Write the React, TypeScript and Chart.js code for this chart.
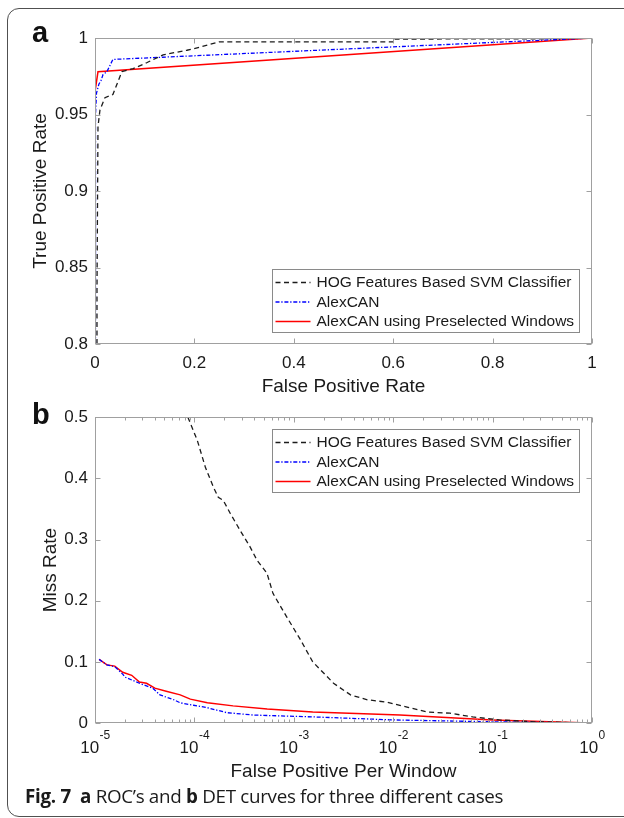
import React, { useEffect, useRef } from "react";
import { Chart, registerables } from "chart.js";

Chart.register(...registerables);

const FONT = "'Liberation Sans', Arial, Helvetica, sans-serif";
const CAPTION_FONT = "'Open Sans', 'Noto Sans', sans-serif";

// ---------- series names ----------
const seriesLabels = [
  "HOG Features Based SVM Classifier",
  "AlexCAN",
  "AlexCAN using Preselected Windows",
];

// ---------- (a) ROC data ----------
const rocHogFpr = [0.004, 0.004, 0.006, 0.01, 0.02, 0.036, 0.054, 0.077, 0.105, 0.137, 0.185, 0.211, 0.25, 0.6, 0.6, 0.9, 1.0];
const rocHogTpr = [0.8, 0.835, 0.942, 0.953, 0.961, 0.963, 0.978, 0.98, 0.984, 0.989, 0.992, 0.994, 0.9975, 0.9975, 0.9993, 0.9995, 1.0];

const rocAlexFpr = [0.001, 0.001, 0.003, 0.008, 0.012, 0.016, 0.024, 0.036, 1.0];
const rocAlexTpr = [0.8, 0.95, 0.964, 0.97, 0.972, 0.976, 0.978, 0.986, 1.0];

const rocPreFpr = [0, 0, 0.001, 0.006, 1.0];
const rocPreTpr = [0.8, 0.963, 0.966, 0.978, 1.0];

const rocXTicks = [0, 0.2, 0.4, 0.6, 0.8, 1];
const rocYTicks = [0.8, 0.85, 0.9, 0.95, 1];

// ---------- (b) DET data ----------
const detHogFppw = [8.6e-5, 1.07e-4, 1.29e-4, 1.55e-4, 1.74e-4, 1.95e-4, 2.29e-4, 2.88e-4, 3.63e-4, 4.27e-4, 5.37e-4, 6.17e-4, 8.51e-4, 1.15e-3, 1.55e-3, 2.51e-3, 3.72e-3, 5.5e-3, 8.7e-3, 1.38e-2, 2.19e-2, 3.72e-2, 6.3e-2, 0.117, 0.257, 0.95];
const detHogMiss = [0.5, 0.462, 0.418, 0.386, 0.369, 0.364, 0.343, 0.315, 0.288, 0.266, 0.245, 0.212, 0.173, 0.138, 0.1, 0.065, 0.046, 0.038, 0.034, 0.026, 0.018, 0.016, 0.01, 0.005, 0.002, 0.0];

const detAlexFppw = [1.1e-5, 1.32e-5, 1.58e-5, 1.9e-5, 2.0e-5, 2.8e-5, 3.8e-5, 4.5e-5, 6.2e-5, 7.2e-5, 9.8e-5, 1.35e-4, 2.1e-4, 3.9e-4, 1.55e-3, 1e-2, 0.1, 0.93];
const detAlexMiss = [0.104, 0.095, 0.092, 0.08, 0.075, 0.065, 0.057, 0.046, 0.038, 0.033, 0.029, 0.025, 0.017, 0.013, 0.01, 0.005, 0.002, 0.0];

const detPreFppw = [1.1e-5, 1.32e-5, 1.58e-5, 1.9e-5, 2.34e-5, 2.8e-5, 3.3e-5, 4.0e-5, 5.2e-5, 7.2e-5, 9.1e-5, 1.35e-4, 2.45e-4, 5.4e-4, 1.55e-3, 1.17e-2, 0.1, 0.95];
const detPreMiss = [0.104, 0.095, 0.093, 0.083, 0.078, 0.067, 0.065, 0.057, 0.052, 0.046, 0.039, 0.033, 0.028, 0.023, 0.018, 0.013, 0.005, 0.0];

const detXTicks = [1e-5, 1e-4, 1e-3, 1e-2, 1e-1, 1];
const detXExponents = ["-5", "-4", "-3", "-2", "-1", "0"];
const detYTicks = [0, 0.1, 0.2, 0.3, 0.4, 0.5];
const minorMultipliers = [2, 3, 4, 5, 6, 7, 8, 9];

// ---------- styles ----------
const seriesStyles = [
  { color: "#1c1c1c", dash: [5, 3.5], width: 1.3 },
  { color: "#0000ff", dash: [4, 1.8, 1.3, 1.8], width: 1.3 },
  { color: "#ff0000", dash: [] as number[], width: 1.5 },
];
const TEXT = "#1a1a1a";
const FRAME = "#a0a0a0";

const zip = (xs: number[], ys: number[]) => xs.map((x, i) => ({ x, y: ys[i] }));
const fmt = (v: any) => String(+Number(v).toFixed(4));

const makeDatasets = (pairs: [number[], number[]][]) =>
  pairs.map(([xs, ys], i) => ({
    label: seriesLabels[i],
    data: zip(xs, ys),
    borderColor: seriesStyles[i].color,
    borderDash: seriesStyles[i].dash,
    borderWidth: seriesStyles[i].width,
    pointRadius: 0,
    fill: false,
    tension: 0,
    showLine: true,
  }));

const decorPlugin = {
  id: "decor",
  afterDatasetsDraw(chart: any, _args: any, opts: any) {
    const { ctx, chartArea: a } = chart;
    const xs = chart.scales.x;
    const ys = chart.scales.y;
    const L = Math.round(a.left) + 0.5;
    const R = Math.round(a.right) - 0.5;
    const T = Math.round(a.top) + 0.5;
    const B = Math.round(a.bottom) - 0.5;
    ctx.save();
    ctx.setLineDash([]);
    ctx.strokeStyle = FRAME;
    ctx.lineWidth = 1;
    ctx.strokeRect(L, T, R - L, B - T);
    ctx.beginPath();
    const major = 5;
    const minor = 3;
    xs.ticks.forEach((t: any) => {
      const p = Math.round(xs.getPixelForValue(t.value)) + 0.5;
      ctx.moveTo(p, B);
      ctx.lineTo(p, B - major);
      ctx.moveTo(p, T);
      ctx.lineTo(p, T + major);
    });
    ys.ticks.forEach((t: any) => {
      const p = Math.round(ys.getPixelForValue(t.value)) + 0.5;
      ctx.moveTo(L, p);
      ctx.lineTo(L + major, p);
      ctx.moveTo(R, p);
      ctx.lineTo(R - major, p);
    });
    if (opts.minorX) {
      xs.ticks.slice(0, -1).forEach((t: any) => {
        minorMultipliers.forEach((m) => {
          const p = Math.round(xs.getPixelForValue(t.value * m)) + 0.5;
          ctx.moveTo(p, B);
          ctx.lineTo(p, B - minor);
          ctx.moveTo(p, T);
          ctx.lineTo(p, T + minor);
        });
      });
    }
    ctx.stroke();

    // power-of-ten tick labels
    if (opts.powerLabels) {
      ctx.fillStyle = TEXT;
      ctx.textBaseline = "alphabetic";
      ctx.textAlign = "left";
      xs.ticks.forEach((t: any, i: number) => {
        const p = xs.getPixelForValue(t.value);
        const base = "10";
        const exp = detXExponents[i];
        ctx.font = `17px ${FONT}`;
        const wb = ctx.measureText(base).width;
        ctx.font = `12px ${FONT}`;
        const we = ctx.measureText(exp).width;
        const x0 = p - (wb + we) / 2;
        ctx.font = `17px ${FONT}`;
        ctx.fillText(base, x0, a.bottom + 30);
        ctx.font = `12px ${FONT}`;
        ctx.fillText(exp, x0 + wb + 0.5, a.bottom + 15.5);
      });
    }

    // legend box
    const lg = opts.legend;
    if (lg) {
      const w = lg.width;
      const h = lg.height;
      const bx = Math.round(a.right - lg.offsetX - w) + 0.5;
      const by = Math.round(lg.anchor === "top" ? a.top + lg.offsetY : a.bottom - lg.offsetY - h) + 0.5;
      ctx.fillStyle = "#ffffff";
      ctx.fillRect(bx, by, w, h);
      ctx.strokeStyle = "#8a8a8a";
      ctx.lineWidth = 1;
      ctx.strokeRect(bx, by, w, h);
      chart.data.datasets.forEach((ds: any, i: number) => {
        const cy = by + 13 + i * 19.5;
        ctx.beginPath();
        ctx.setLineDash(ds.borderDash || []);
        ctx.strokeStyle = ds.borderColor;
        ctx.lineWidth = ds.borderWidth;
        ctx.moveTo(bx + 3, cy);
        ctx.lineTo(bx + 38, cy);
        ctx.stroke();
        ctx.setLineDash([]);
        ctx.fillStyle = TEXT;
        ctx.font = `15.5px ${FONT}`;
        ctx.textBaseline = "middle";
        ctx.textAlign = "left";
        ctx.fillText(ds.label, bx + 44, cy + 0.5);
      });
    }
    ctx.restore();
  },
};

const noGrid = { display: false, drawTicks: false };

function buildRoc(canvas: HTMLCanvasElement) {
  return new Chart(canvas, {
    type: "line",
    data: {
      datasets: makeDatasets([
        [rocHogFpr, rocHogTpr],
        [rocAlexFpr, rocAlexTpr],
        [rocPreFpr, rocPreTpr],
      ]) as any,
    },
    options: {
      animation: false,
      responsive: false,
      devicePixelRatio: 1,
      layout: { padding: { top: 38, right: 32, left: 0, bottom: 0 } },
      plugins: {
        legend: { display: false },
        tooltip: { enabled: false },
        decor: {
          legend: { anchor: "bottom", offsetX: 13, offsetY: 12, width: 307, height: 63 },
        },
      } as any,
      scales: {
        x: {
          type: "linear",
          min: 0,
          max: 1,
          grid: noGrid,
          border: { display: false },
          afterBuildTicks: (s: any) => {
            s.ticks = rocXTicks.map((v) => ({ value: v }));
          },
          afterFit: (s: any) => {
            s.height = 56;
          },
          ticks: { padding: 9, color: TEXT, font: { size: 17, family: FONT }, callback: fmt, maxRotation: 0, autoSkip: false },
          title: { display: true, text: "False Positive Rate", color: TEXT, font: { size: 19, family: FONT }, padding: { top: 0, bottom: 1.8 } },
        },
        y: {
          type: "linear",
          min: 0.8,
          max: 1,
          grid: noGrid,
          border: { display: false },
          afterBuildTicks: (s: any) => {
            s.ticks = rocYTicks.map((v) => ({ value: v }));
          },
          afterFit: (s: any) => {
            s.width = 95;
          },
          ticks: { padding: 7, color: TEXT, font: { size: 17, family: FONT }, callback: fmt, autoSkip: false },
          title: { display: true, text: "True Positive Rate", color: TEXT, font: { size: 19, family: FONT }, padding: { top: 29.5, bottom: 0 } },
        },
      },
    } as any,
    plugins: [decorPlugin as any],
  });
}

function buildDet(canvas: HTMLCanvasElement) {
  return new Chart(canvas, {
    type: "line",
    data: {
      datasets: makeDatasets([
        [detHogFppw, detHogMiss],
        [detAlexFppw, detAlexMiss],
        [detPreFppw, detPreMiss],
      ]) as any,
    },
    options: {
      animation: false,
      responsive: false,
      devicePixelRatio: 1,
      layout: { padding: { top: 17, right: 32, left: 0, bottom: 0 } },
      plugins: {
        legend: { display: false },
        tooltip: { enabled: false },
        decor: {
          minorX: true,
          powerLabels: true,
          legend: { anchor: "top", offsetX: 13, offsetY: 12, width: 307, height: 63 },
        },
      } as any,
      scales: {
        x: {
          type: "logarithmic",
          min: 1e-5,
          max: 1,
          grid: noGrid,
          border: { display: false },
          afterBuildTicks: (s: any) => {
            s.ticks = detXTicks.map((v) => ({ value: v }));
          },
          afterFit: (s: any) => {
            s.height = 77;
          },
          ticks: { display: false, autoSkip: false },
          title: { display: true, text: "False Positive Per Window", color: TEXT, font: { size: 19, family: FONT }, padding: { top: 0, bottom: 17 } },
        },
        y: {
          type: "linear",
          min: 0,
          max: 0.5,
          grid: noGrid,
          border: { display: false },
          afterBuildTicks: (s: any) => {
            s.ticks = detYTicks.map((v) => ({ value: v }));
          },
          afterFit: (s: any) => {
            s.width = 95;
          },
          ticks: { padding: 7, color: TEXT, font: { size: 17, family: FONT }, callback: fmt, autoSkip: false },
          title: { display: true, text: "Miss Rate", color: TEXT, font: { size: 19, family: FONT }, padding: { top: 39, bottom: 0 } },
        },
      },
    } as any,
    plugins: [decorPlugin as any],
  });
}

export default function App() {
  const rocRef = useRef<HTMLCanvasElement>(null);
  const detRef = useRef<HTMLCanvasElement>(null);

  useEffect(() => {
    const c1 = buildRoc(rocRef.current!);
    const c2 = buildDet(detRef.current!);
    return () => {
      c1.destroy();
      c2.destroy();
    };
  }, []);

  const panelLabel: React.CSSProperties = {
    position: "absolute",
    left: 32,
    fontFamily: FONT,
    fontWeight: "bold",
    fontSize: 29,
    lineHeight: "29px",
    color: "#111",
  };

  return (
    <div style={{ position: "absolute", left: 0, top: 0, width: 624, height: 818, overflow: "hidden", background: "#fff" }}>
      <div
        style={{
          position: "absolute",
          left: 7,
          top: 8,
          width: 640,
          height: 809,
          boxSizing: "border-box",
          border: "1.3px solid #505050",
          borderRadius: 12,
        }}
      />
      <canvas ref={rocRef} width={624} height={400} style={{ position: "absolute", left: 0, top: 0 }} />
      <canvas ref={detRef} width={624} height={400} style={{ position: "absolute", left: 0, top: 400 }} />
      <div style={{ ...panelLabel, top: 17.5 }}>a</div>
      <div style={{ ...panelLabel, top: 400 }}>b</div>
      <div
        style={{
          position: "absolute",
          left: 25,
          top: 784,
          fontFamily: CAPTION_FONT,
          fontSize: 18.8,
          lineHeight: "24px",
          color: "#1a1a1a",
          whiteSpace: "nowrap",
          letterSpacing: -0.3,
        }}
      >
        <b>Fig. 7</b>&nbsp;&nbsp;<b>a</b> ROC’s and <b>b</b> DET curves for three different cases
      </div>
    </div>
  );
}
